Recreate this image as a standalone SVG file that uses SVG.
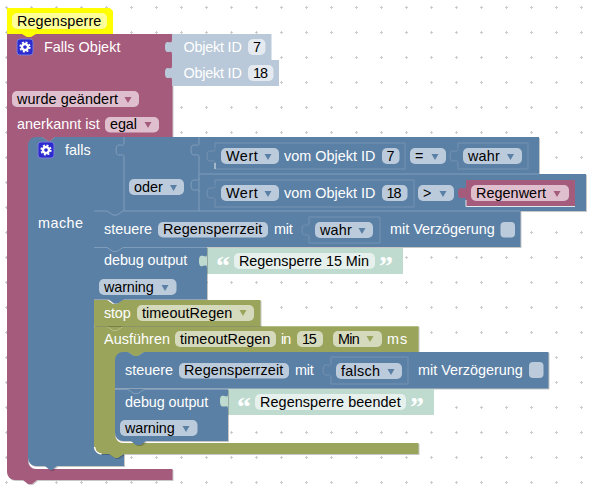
<svg xmlns="http://www.w3.org/2000/svg" width="596" height="493" viewBox="0 0 596 493">
<style>
text{font-family:"Liberation Sans",Arial,sans-serif;font-size:14.4px;fill:#fff}
text.f{fill:#000}
text.q{font-family:"Liberation Serif",serif;font-size:28px;font-weight:bold}
.b{fill:#5b80a5}
.m{fill:#a55b7b}
.o{fill:#9aa55b}
.sh{filter:drop-shadow(1px 1px 0 rgba(0,0,0,.22))}
.fb{fill:#bccbdb}
.fm{fill:#dfbfce}
.fo{fill:#d6dabd}
.ft{fill:#e6f0ec}
.fi{fill:#e4eaf0}
.lb{fill:#b9c9d9}
.lt{fill:#bfdbd0}
.ln{fill:none;stroke:#7f9dbb;stroke-width:1}
.ol{fill:none;stroke:#7492b1;stroke-width:1}
.hl{fill:none;stroke:#dfe7ef;stroke-width:1}
</style>
<defs>
<pattern id="grid" width="25" height="25" patternUnits="userSpaceOnUse" x="-6" y="-5">
<path d="M11 12.500h3M12.500 11v3" stroke="#ccc" stroke-width="1" fill="none"/>
</pattern>
<path id="tr" d="M-3.500 0h7l-3.500 6z"/>
<g id="gear">
<rect x="-8" y="-8" width="16" height="16" rx="3" fill="#2b2bcf" stroke="#7b7bd8" stroke-width="1"/>
<circle r="3" fill="none" stroke="#fff" stroke-width="2.400"/>
<circle r="4.800" fill="none" stroke="#fff" stroke-width="1.600" stroke-dasharray="2 1.770"/>
</g>
</defs>
<rect width="596" height="493" fill="#fff"/>
<rect width="596" height="493" fill="url(#grid)"/>

<g id="trigger">
<path class="m sh" d="M7 34H172.500V137H55l-5 4h-2l-6-4H36V145H28V461a8 8 0 0 0 8 8H172.500V480H37l-5 4h-4l-5-4H15a8 8 0 0 1-8-8Z"/>
<use href="#gear" x="25" y="47"/>
<text x="44" y="52" textLength="76.400">Falls Objekt</text>
<rect class="fm" x="12" y="91" width="127" height="16" rx="5"/>
<text class="f" x="17" y="104" textLength="101">wurde geändert</text>
<use href="#tr" x="128" y="97" class="m"/>
<text x="17" y="129" textLength="82.700">anerkannt ist</text>
<rect class="fm" x="105" y="117" width="54" height="15.500" rx="5"/>
<text class="f" x="110" y="129" textLength="27">egal</text>
<use href="#tr" x="148" y="122" class="m"/>
</g>

<g id="comment">
<path fill="#ffff00" d="M7 8H110L113 11V34H36l-5 3h-4l-5-3H7Z"/>
<rect x="12" y="13" width="95" height="16" rx="5" fill="#ffff99"/>
<text class="f" x="17" y="26" textLength="84.300">Regensperre</text>
</g>

<g id="objekt7">
<path class="lb" d="M172 34H271.500V60H172V54c0-6-7 3-7-7s7-1 7-7Z"/>
<text x="183.500" y="52" textLength="58.300">Objekt ID</text>
<rect class="fi" x="248" y="39" width="17.500" height="16" rx="5"/>
<text class="f" x="253" y="52">7</text>
</g>
<g id="objekt18">
<path class="lb" d="M172 60H279V86H172V80c0-6-7 3-7-7s7-1 7-7Z"/>
<text x="183.500" y="78" textLength="58.300">Objekt ID</text>
<rect class="fi" x="248" y="65" width="25.500" height="16" rx="5"/>
<text class="f" x="253" y="78" textLength="15">18</text>
</g>

<g id="falls">
<path class="b sh" d="M28 145a8 8 0 0 1 8-8H42l6 4h2l5-4H124V211H94V446a8 8 0 0 0 8 8H124V466H57l-5 4h-2l-5-4H36a8 8 0 0 1-8-8Z"/>
<use href="#gear" x="46" y="150"/>
<text x="65" y="155" textLength="25.700">falls</text>
<text x="38" y="228" textLength="45">mache</text>
</g>

<g id="oder">
<path class="b sh" d="M124 137H539V174H586V211H124Z"/>
<path class="ln" d="M124 137v6c0 6-8-3-8 7s8 1 8 7V211M199 137v6c0 6-8-3-8 7s8 1 8 7V211M199 174H539M199 178c0 6-8-3-8 7s8 1 8 7"/>
<rect class="fb" x="129" y="179" width="55" height="16" rx="5"/>
<text class="f" x="134" y="192" textLength="28.700">oder</text>
<use href="#tr" x="173.500" y="185" class="b"/>
</g>

<g id="wert7">
<path class="ol" d="M215 148V143H405V169H215V163c0-6-8 3-8-7s8-1 8-7"/>
<path class="hl" d="M215 163V169"/>
<rect class="fb" x="221" y="148" width="58" height="16" rx="5"/>
<text class="f" x="226" y="161" textLength="31.700">Wert</text>
<use href="#tr" x="268" y="154" class="b"/>
<text x="284" y="161" textLength="91.300">vom Objekt ID</text>
<rect class="fb" x="382" y="148" width="17.500" height="16" rx="5"/>
<text class="f" x="386.500" y="161">7</text>
<rect class="fb" x="410" y="148" width="36" height="16" rx="5"/>
<text class="f" x="415" y="161">=</text>
<use href="#tr" x="435" y="154" class="b"/>
</g>
<g id="wahr1">
<path class="ol" d="M458 148V143H528V169H458V163c0-6-8 3-8-7s8-1 8-7"/>
<rect class="fb" x="463" y="148" width="59" height="16" rx="5"/>
<text class="f" x="468" y="161" textLength="31.700">wahr</text>
<use href="#tr" x="510.500" y="154" class="b"/>
</g>
<g id="wert18">
<path class="ol" d="M215 185V180H414V207H215V200c0-6-8 3-8-7s8-1 8-7"/>
<rect class="fb" x="221" y="185" width="58" height="16" rx="5"/>
<text class="f" x="226" y="198" textLength="31.700">Wert</text>
<use href="#tr" x="268" y="191" class="b"/>
<text x="284" y="198" textLength="91.300">vom Objekt ID</text>
<rect class="fb" x="382" y="185" width="25.500" height="16" rx="5"/>
<text class="f" x="386.500" y="198" textLength="15">18</text>
<rect class="fb" x="418" y="185" width="36" height="16" rx="5"/>
<text class="f" x="423" y="198">&gt;</text>
<use href="#tr" x="443" y="191" class="b"/>
</g>
<g id="regenwert">
<path class="m" d="M466 180H575V206H466V200c0-6-8 3-8-7s8-1 8-7Z"/>
<path class="hl" d="M466 200V206.500H575"/>
<rect class="fm" x="471" y="185" width="98" height="16" rx="5"/>
<text class="f" x="476" y="198" textLength="70">Regenwert</text>
<use href="#tr" x="557" y="191" class="m"/>
</g>

<g id="steuere1">
<path class="b sh" d="M94 211H520.500V247H94Z"/>
<path class="ln" d="M94 211H107l6 4h4l6-4H520"/>
<text x="104" y="234" textLength="48">steuere</text>
<rect class="fb" x="158" y="222" width="110" height="15.500" rx="5"/>
<text class="f" x="163" y="234" textLength="99.300">Regensperrzeit</text>
<text x="274" y="234" textLength="18.700">mit</text>
<path class="ol" d="M309 223V217H380V243H309V237c0-6-7 3-7-7s7-1 7-7"/>
<rect class="fb" x="315" y="222" width="58" height="16" rx="5"/>
<text class="f" x="320" y="235" textLength="31.700">wahr</text>
<use href="#tr" x="362" y="228" class="b"/>
<text x="390" y="234" textLength="104.700">mit Verzögerung</text>
<rect class="fb" x="500.500" y="222" width="14.500" height="15.500" rx="4"/>
</g>

<g id="debug1">
<path class="lt" d="M207 248H403V274H207Z"/>
<path class="b sh" d="M94 247H207V299.500H124l-5 4h-5l-5-4H94Z"/>
<path class="lt" d="M207 254c0 7-8-4-8 7s8 0 8 7Z"/>
<path class="ln" d="M94 247.500H107l6 4h4l6-4H207"/>
<text x="104" y="265" textLength="83.300">debug output</text>
<text class="q" x="216" y="275">“</text>
<rect class="ft" x="234" y="253" width="141" height="16" rx="5"/>
<text class="f" x="239" y="266" textLength="130">Regensperre 15 Min</text>
<text class="q" x="379" y="275">”</text>
<rect class="fb" x="99" y="279" width="77.500" height="16" rx="5"/>
<text class="f" x="104" y="292" textLength="49.700">warning</text>
<use href="#tr" x="165" y="285" class="b"/>
</g>

<g id="ausfuehren">
<path class="o sh" d="M94 326H418.500V352H144l-6 4h-4l-6-4H123V360H115V435a8 8 0 0 0 8 8H418.500V454H124l-6 4h-3l-6-4H102a8 8 0 0 1-8-8Z"/>
<path fill="none" stroke="#fff" stroke-width="1.500" d="M94.500 447a8 8 0 0 0 7 7"/>
<path d="M94 326.500H107l6 4h4l6-4H418" fill="none" stroke="#b4bd84"/>
<text x="104" y="344" textLength="66">Ausführen</text>
<rect class="fo" x="175" y="331" width="101" height="16" rx="5"/>
<text class="f" x="180" y="344" textLength="90.300">timeoutRegen</text>
<text x="281" y="344" textLength="10.300">in</text>
<rect class="fo" x="297" y="331" width="26" height="16" rx="5"/>
<text class="f" x="302" y="344" textLength="14.700">15</text>
<rect class="fo" x="333" y="331" width="49" height="16" rx="5"/>
<text class="f" x="338" y="344" textLength="21.700">Min</text>
<use href="#tr" x="370" y="336" class="o"/>
<text x="387" y="344" textLength="20.300">ms</text>
</g>

<g id="stop">
<path class="o sh" d="M94 300H107l6 4h4l6-4H260.500V326H94Z"/>
<text x="104" y="318" textLength="26.700">stop</text>
<rect class="fo" x="137" y="305" width="117" height="16" rx="5"/>
<text class="f" x="142" y="318" textLength="90.300">timeoutRegen</text>
<use href="#tr" x="243" y="310" class="o"/>
</g>

<g id="steuere2">
<path class="b sh" d="M115 360a8 8 0 0 1 8-8H128l6 4h4l6-4H548.500V388.500H115Z"/>
<text x="125" y="375" textLength="48">steuere</text>
<rect class="fb" x="179" y="363" width="110" height="15.500" rx="5"/>
<text class="f" x="184" y="375" textLength="99.300">Regensperrzeit</text>
<text x="295" y="375" textLength="18.700">mit</text>
<path class="ol" d="M331 363V357H408V384H331V377c0-6-8 3-8-7s8-1 8-7"/>
<rect class="fb" x="336" y="363" width="66" height="16" rx="5"/>
<text class="f" x="341" y="376" textLength="39">falsch</text>
<use href="#tr" x="391" y="369" class="b"/>
<text x="418" y="375" textLength="104.700">mit Verzögerung</text>
<rect class="fb" x="529" y="362" width="14.500" height="16" rx="4"/>
</g>

<g id="debug2">
<path class="lt" d="M228 389H434V415H228Z"/>
<path class="b sh" d="M115 389H228V441H146l-5 4h-5l-5-4H123a8 8 0 0 1-8-8Z"/>
<path class="lt" d="M228 394c0 7-8-4-8 7s8 1 8 8Z"/>
<path class="ln" d="M115 389.500H128l6 4h4l6-4H228"/>
<text x="125" y="407" textLength="83.300">debug output</text>
<text class="q" x="237" y="416">“</text>
<rect class="ft" x="255" y="394" width="151" height="16" rx="5"/>
<text class="f" x="260" y="407" textLength="140.700">Regensperre beendet</text>
<text class="q" x="410" y="416">”</text>
<rect class="fb" x="120" y="420" width="77.500" height="16" rx="5"/>
<text class="f" x="125" y="433" textLength="49.700">warning</text>
<use href="#tr" x="186" y="426" class="b"/>
</g>
</svg>
